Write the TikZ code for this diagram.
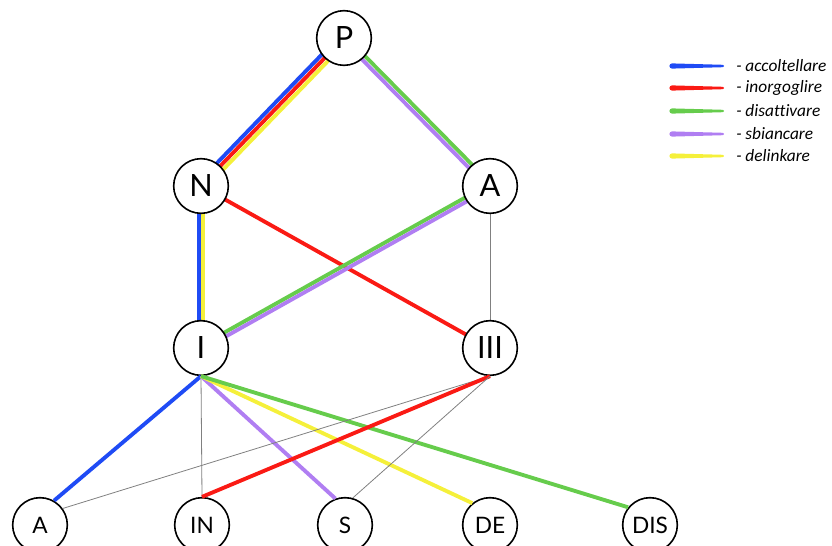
\documentclass[tikz,border=0pt]{standalone}
\usepackage{fontspec}
\usetikzlibrary{calc}
\setmainfont{Lato}
\newfontfamily\legfont[Ligatures=NoCommon]{Carlito}
\pgfdeclarelayer{bg}
\pgfsetlayers{bg,main}
\definecolor{cblue}{HTML}{1F4BF5}
\definecolor{cred}{HTML}{FA1A14}
\definecolor{cgreen}{HTML}{66CC4C}
\definecolor{cpurple}{HTML}{B07EF2}
\definecolor{cyellow}{HTML}{F5F03A}
\newcommand\legstroke[3]{%
  \fill[#1] ($(#2)+(0,-2.6)$) -- ($(#3)+(0,-1.2)$)
     arc[start angle=-90,end angle=90,radius=1.2]
     -- ($(#2)+(0,2.6)$) arc[start angle=90,end angle=270,radius=2.6] -- cycle;}
\begin{document}
\begin{tikzpicture}[x=0.75pt,y=-0.75pt,
  vert/.style={circle,draw=black,line width=1.2pt,fill=white,minimum size=41pt,inner sep=0pt,font=\fontsize{23pt}{23pt}\selectfont},
  leaf/.style={vert,font=\fontsize{17pt}{17pt}\selectfont},
  edge/.style={line width=2.9pt},
  thin/.style={line width=0.6pt,gray},
  off/.style={transform canvas={shift={#1}}},
  legtext/.style={anchor=west,font=\legfont\itshape\fontsize{13pt}{13pt}\selectfont,inner sep=0pt}]
\useasboundingbox (0,0) rectangle (832,546);
\node[vert] (P) at (344,38) {P};
\node[vert] (N) at (201,186) {N};
\node[vert] (A) at (490,186) {A};
\node[vert] (I) at (201,348) {I};
\node[vert] (III) at (490,348) {III};
\node[leaf] (Ab) at (40,525) {A};
\node[leaf] (IN) at (202,525) {IN};
\node[leaf] (S) at (345,525) {S};
\node[leaf] (DE) at (490,525) {DE};
\node[leaf] (DIS) at (650,525) {DIS};
\begin{pgfonlayer}{bg}
  % P - N
  \draw[edge,cblue,off={(-3.2,-3.1)}] (P.center) -- (N.center);
  \draw[edge,cred] (P.center) -- (N.center);
  \draw[edge,cyellow,off={(3.2,3.1)}] (P.center) -- (N.center);
  % P - A
  \draw[edge,cgreen,off={(1.6,-1.55)}] (P.center) -- (A.center);
  \draw[edge,cpurple,off={(-1.6,1.55)}] (P.center) -- (A.center);
  % N - I
  \draw[edge,cblue,off={(-1.9,0)}] (N.center) -- (I.center);
  \draw[edge,cyellow,off={(2.1,0)}] (N.center) -- (I.center);
  % N - III
  \draw[edge,cred] (N.center) -- (III.center);
  % A - I
  \draw[edge,cgreen,off={(-1.0,-1.8)}] (A.center) -- (I.center);
  \draw[edge,cpurple,off={(1.0,1.8)}] (A.center) -- (I.center);
  % A - III
  \draw[thin] (A.center) -- (III.center);
\end{pgfonlayer}
% I - leaves
\draw[edge,cblue] (I.south) -- (Ab.60);
\draw[thin] (I.south) -- (IN.north);
\draw[edge,cpurple] (I.south) -- (S.110);
\draw[edge,cyellow] (I.south) -- (DE.129);
\draw[edge,cgreen] (I.south) -- (DIS.141);
% III - leaves
\draw[thin] (III.south) -- (Ab.36);
\draw[edge,cred] (III.south) -- (IN.north);
\draw[thin] (III.south) -- (S.74);
% legend
\coordinate (l1a) at (672,66);  \coordinate (l1b) at (723,66);
\coordinate (l2a) at (672,88);  \coordinate (l2b) at (723,88);
\coordinate (l3a) at (672,111); \coordinate (l3b) at (723,111);
\coordinate (l4a) at (672,134); \coordinate (l4b) at (723,134);
\coordinate (l5a) at (672,156); \coordinate (l5b) at (723,156);
\legstroke{cblue}{l1a}{l1b}
\legstroke{cred}{l2a}{l2b}
\legstroke{cgreen}{l3a}{l3b}
\legstroke{cpurple}{l4a}{l4b}
\legstroke{cyellow}{l5a}{l5b}
\node[legtext] (t1) at (736,66) {- accoltellare};
\node[legtext] (t2) at (736,88) {- inorgoglire};
\node[legtext] (t3) at (736,111) {- disattivare};
\node[legtext] (t4) at (736,134) {- sbiancare};
\node[legtext] (t5) at (736,156) {- delinkare};
\end{tikzpicture}
\end{document}
